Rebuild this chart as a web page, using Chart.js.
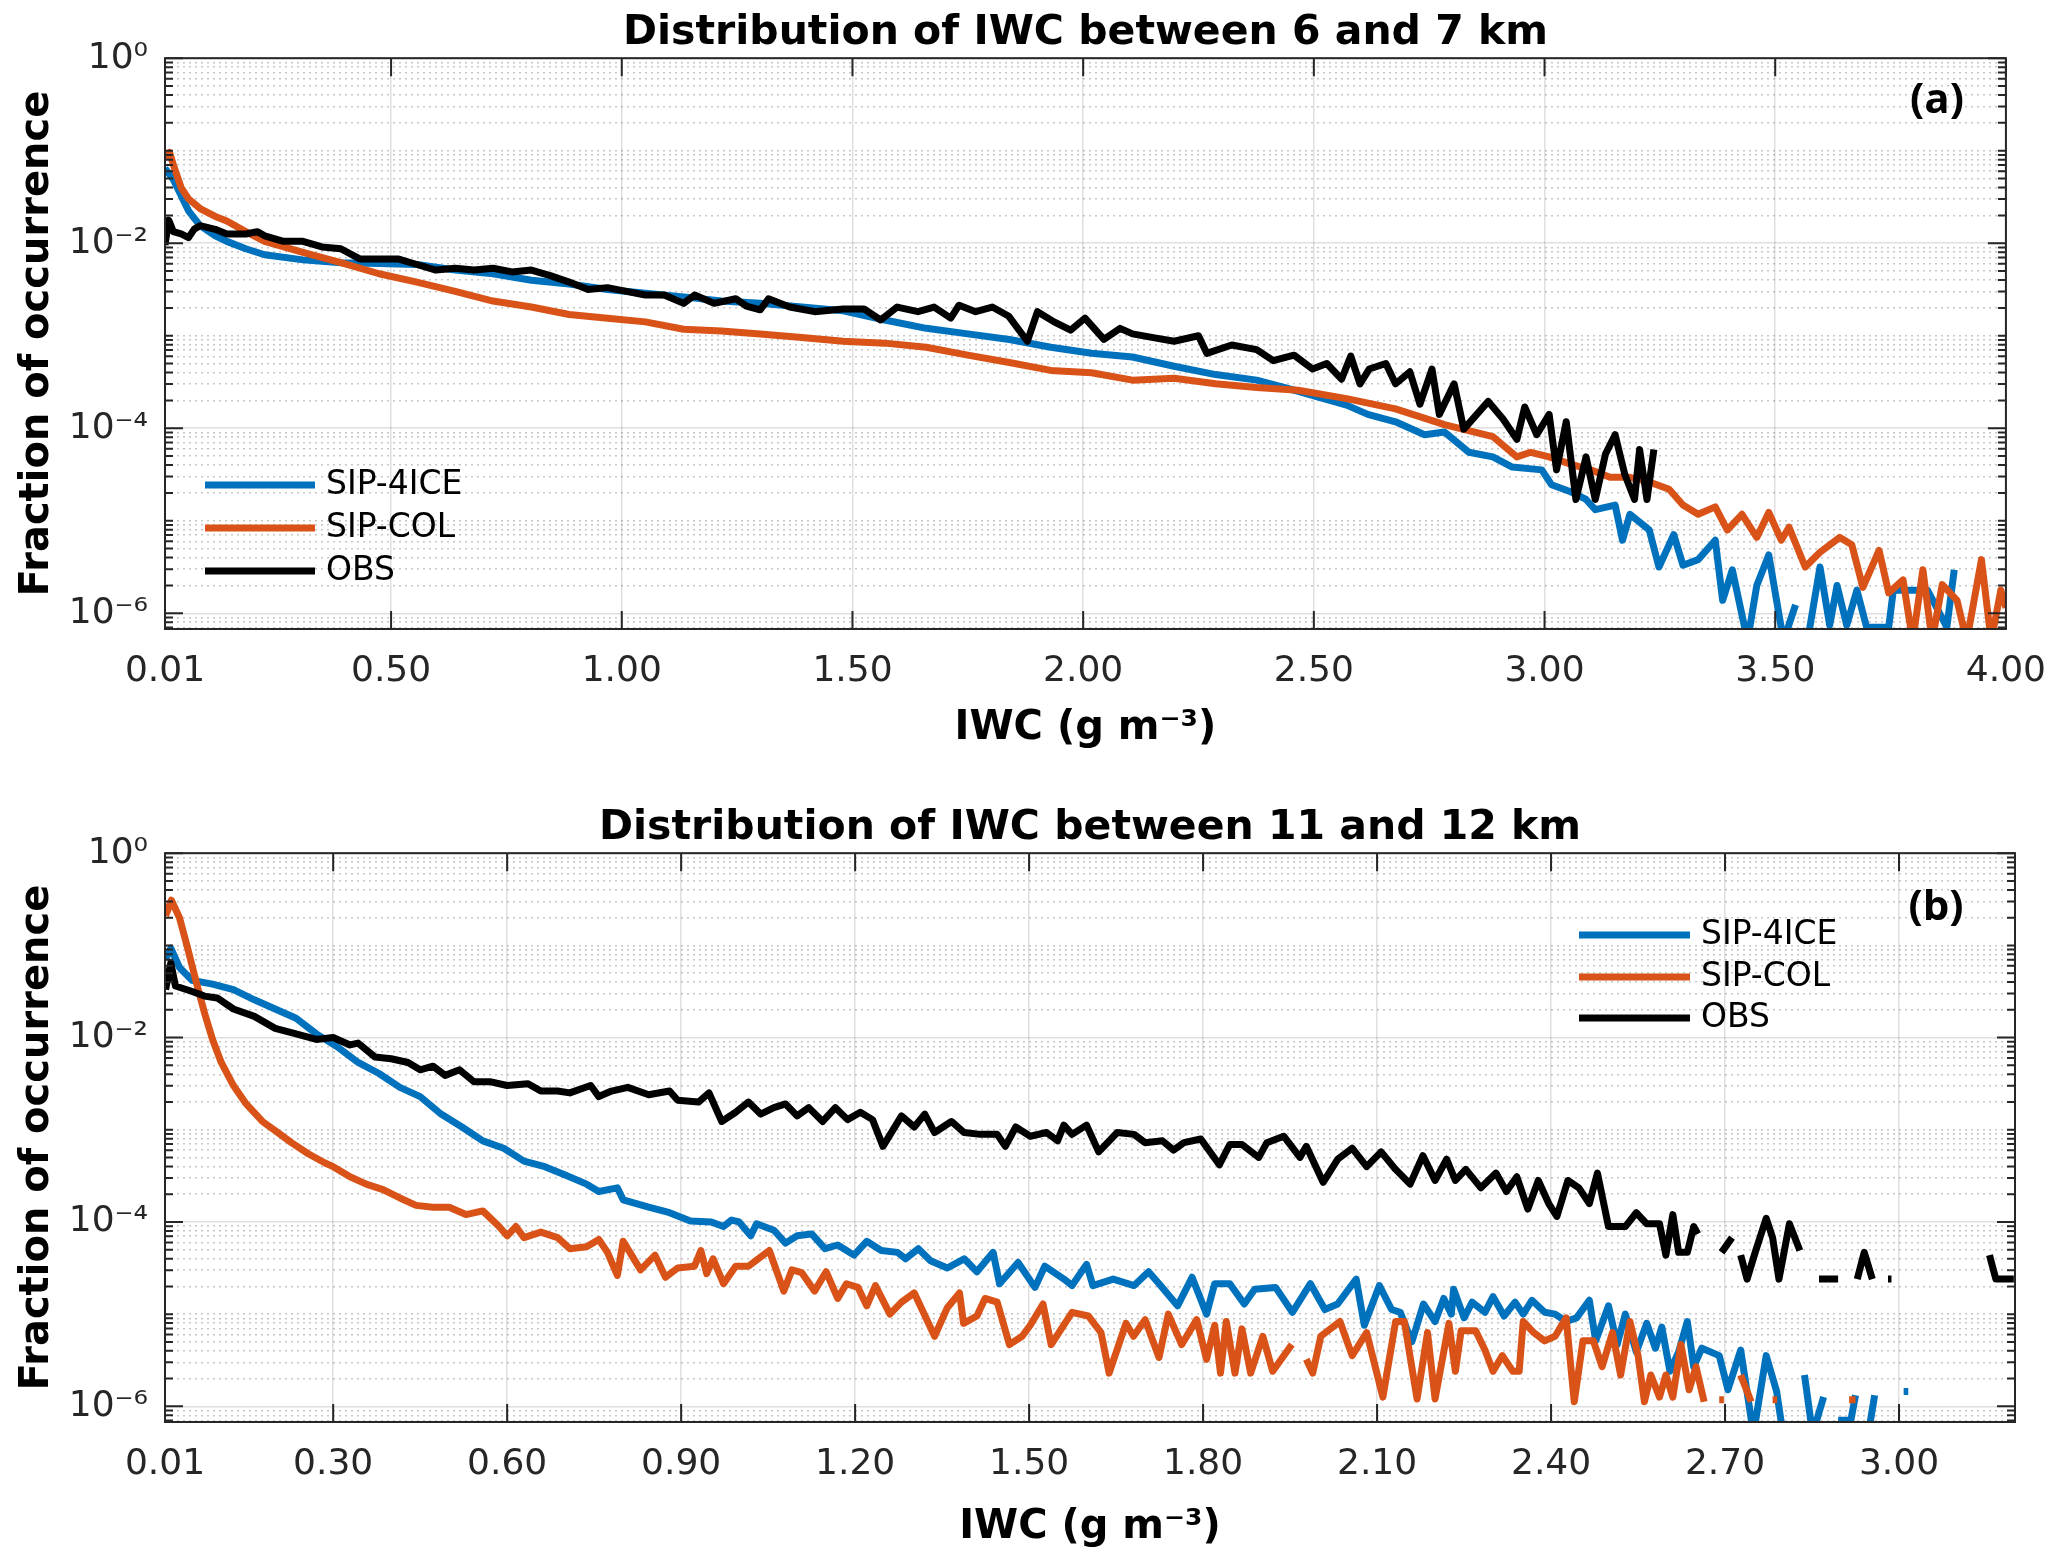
<!DOCTYPE html>
<html lang="en">
<head>
    <meta charset="UTF-8">
    <title>Distribution of IWC</title>
    <script src="https://cdn.jsdelivr.net/npm/chart.js"></script>
    <style>
        body { margin: 0; background: #fff; }
        canvas { display: block; }
    </style>
</head>
<body>
    <canvas id="chartA" width="2067" height="790"></canvas>
    <canvas id="chartB" width="2067" height="769"></canvas>

    <script>
        // ---- data: [IWC (g m-3), log10(fraction of occurrence)], null = no data ----
        const aIce = [[0.01,-1.19],[0.028,-1.31],[0.061,-1.65],[0.086,-1.81],[0.119,-1.92],[0.144,-1.98],[0.185,-2.06],[0.226,-2.125],
            [0.309,-2.18],[0.391,-2.21],[0.474,-2.22],[0.556,-2.23],[0.639,-2.29],[0.721,-2.33],[0.804,-2.40],[0.886,-2.44],[0.969,-2.50],
            [1.051,-2.54],[1.134,-2.58],[1.216,-2.625],[1.30,-2.65],[1.39,-2.69],[1.48,-2.73],[1.57,-2.83],[1.66,-2.92],[1.75,-2.98],
            [1.84,-3.04],[1.93,-3.125],[2.018,-3.19],[2.107,-3.23],[2.197,-3.33],[2.287,-3.42],[2.376,-3.48],[2.466,-3.60],[2.571,-3.75],
            [2.617,-3.85],[2.677,-3.93],[2.74,-4.07],[2.783,-4.04],[2.836,-4.26],[2.888,-4.31],[2.93,-4.42],[2.994,-4.45],[3.015,-4.61],
            [3.058,-4.69],[3.09,-4.77],[3.11,-4.88],[3.153,-4.83],[3.169,-5.21],[3.185,-4.93],[3.227,-5.10],[3.248,-5.50],[3.28,-5.15],
            [3.30,-5.48],[3.333,-5.42],[3.37,-5.21],[3.386,-5.86],[3.407,-5.53],[3.44,-6.3],[3.46,-5.70],[3.486,-5.37],[3.518,-6.3],
            [3.544,-5.91],[3.555,null],[3.57,-6.3],[3.597,-5.50],[3.618,-6.13],[3.634,-5.70],[3.655,-6.13],[3.677,-5.75],[3.698,-6.15],
            [3.746,-6.15],[3.756,-5.75],[3.788,-5.75],[3.83,-5.75],[3.872,-6.15],[3.888,-5.53]];

        const aCol = [[0.01,-1.08],[0.02,-1.02],[0.028,-1.15],[0.045,-1.40],[0.061,-1.52],[0.086,-1.625],[0.119,-1.71],[0.144,-1.76],
            [0.185,-1.875],[0.226,-1.98],[0.309,-2.10],[0.391,-2.21],[0.474,-2.33],[0.556,-2.42],[0.639,-2.52],[0.721,-2.625],[0.804,-2.69],
            [0.886,-2.77],[0.969,-2.81],[1.051,-2.85],[1.134,-2.93],[1.216,-2.95],[1.30,-2.98],[1.39,-3.02],[1.48,-3.06],[1.57,-3.08],
            [1.66,-3.125],[1.75,-3.21],[1.84,-3.29],[1.93,-3.375],[2.018,-3.40],[2.107,-3.48],[2.197,-3.46],[2.287,-3.52],[2.376,-3.56],
            [2.466,-3.59],[2.571,-3.68],[2.677,-3.79],[2.783,-3.96],[2.888,-4.09],[2.94,-4.31],[2.97,-4.26],[3.01,-4.31],[3.058,-4.39],
            [3.10,-4.45],[3.142,-4.53],[3.185,-4.53],[3.227,-4.58],[3.27,-4.66],[3.30,-4.83],[3.333,-4.93],[3.37,-4.85],[3.396,-5.10],
            [3.428,-4.93],[3.46,-5.18],[3.486,-4.91],[3.513,-5.21],[3.53,-5.07],[3.565,-5.50],[3.597,-5.34],[3.64,-5.18],[3.666,-5.26],
            [3.69,-5.72],[3.725,-5.32],[3.746,-5.78],[3.777,-5.64],[3.798,-6.3],[3.82,-5.53],[3.84,-6.3],[3.862,-5.69],[3.894,-5.86],
            [3.915,-6.3],[3.947,-5.42],[3.968,-6.3],[3.989,-5.75],[4.0,-5.94]];

        const aObs = [[0.01,-2.02],[0.018,-1.75],[0.028,-1.875],[0.045,-1.90],[0.061,-1.94],[0.073,-1.85],[0.086,-1.81],[0.119,-1.85],
            [0.144,-1.90],[0.185,-1.90],[0.21,-1.875],[0.226,-1.92],[0.267,-1.98],[0.309,-1.98],[0.35,-2.04],[0.391,-2.06],[0.432,-2.17],
            [0.474,-2.17],[0.515,-2.17],[0.556,-2.23],[0.597,-2.29],[0.639,-2.27],[0.68,-2.29],[0.721,-2.27],[0.762,-2.31],[0.804,-2.29],
            [0.845,-2.35],[0.886,-2.42],[0.927,-2.50],[0.969,-2.48],[1.01,-2.52],[1.051,-2.56],[1.092,-2.56],[1.134,-2.65],[1.158,-2.56],
            [1.2,-2.65],[1.247,-2.60],[1.27,-2.68],[1.30,-2.72],[1.318,-2.60],[1.364,-2.69],[1.418,-2.74],[1.48,-2.71],[1.525,-2.71],
            [1.561,-2.83],[1.597,-2.69],[1.642,-2.74],[1.677,-2.69],[1.713,-2.81],[1.731,-2.67],[1.767,-2.74],[1.803,-2.69],[1.839,-2.79],
            [1.879,-3.06],[1.901,-2.74],[1.937,-2.85],[1.973,-2.94],[2.004,-2.81],[2.045,-3.04],[2.08,-2.92],[2.107,-2.98],[2.152,-3.02],
            [2.197,-3.06],[2.25,-3.00],[2.268,-3.19],[2.322,-3.10],[2.376,-3.15],[2.412,-3.27],[2.457,-3.21],[2.497,-3.36],[2.528,-3.30],
            [2.56,-3.47],[2.58,-3.22],[2.60,-3.52],[2.62,-3.36],[2.656,-3.30],[2.677,-3.52],[2.708,-3.39],[2.73,-3.74],[2.756,-3.36],
            [2.772,-3.85],[2.804,-3.52],[2.825,-4.01],[2.878,-3.71],[2.91,-3.90],[2.94,-4.12],[2.957,-3.77],[2.983,-4.07],[3.01,-3.85],
            [3.026,-4.45],[3.047,-3.93],[3.068,-4.77],[3.09,-4.31],[3.11,-4.77],[3.132,-4.28],[3.153,-4.07],[3.174,-4.50],[3.195,-4.77],
            [3.206,-4.23],[3.222,-4.77],[3.237,-4.23]];

        const bIce = [[0.011,-1.15],[0.02,-1.03],[0.035,-1.24],[0.057,-1.38],[0.092,-1.42],[0.128,-1.48],[0.164,-1.59],[0.20,-1.69],
            [0.236,-1.79],[0.271,-1.96],[0.307,-2.10],[0.343,-2.27],[0.379,-2.39],[0.415,-2.54],[0.45,-2.64],[0.486,-2.83],[0.522,-2.97],
            [0.558,-3.12],[0.594,-3.20],[0.629,-3.34],[0.665,-3.40],[0.70,-3.49],[0.737,-3.59],[0.758,-3.67],[0.79,-3.63],[0.80,-3.76],
            [0.844,-3.84],[0.88,-3.90],[0.916,-3.99],[0.952,-4.00],[0.973,-4.05],[0.987,-3.98],[1.00,-4.00],[1.02,-4.15],[1.03,-4.02],
            [1.06,-4.09],[1.08,-4.23],[1.10,-4.15],[1.125,-4.13],[1.148,-4.29],[1.17,-4.25],[1.198,-4.36],[1.22,-4.21],[1.245,-4.31],
            [1.273,-4.33],[1.287,-4.40],[1.309,-4.29],[1.33,-4.42],[1.359,-4.50],[1.388,-4.40],[1.41,-4.54],[1.438,-4.33],[1.449,-4.67],
            [1.481,-4.44],[1.51,-4.71],[1.527,-4.48],[1.56,-4.62],[1.574,-4.69],[1.599,-4.46],[1.61,-4.69],[1.645,-4.62],[1.681,-4.69],
            [1.706,-4.54],[1.724,-4.67],[1.756,-4.91],[1.781,-4.60],[1.806,-5.00],[1.82,-4.67],[1.846,-4.67],[1.871,-4.89],[1.889,-4.73],
            [1.925,-4.71],[1.954,-4.98],[1.985,-4.67],[2.01,-4.95],[2.032,-4.89],[2.064,-4.62],[2.078,-5.12],[2.104,-4.69],[2.125,-4.95],
            [2.14,-4.98],[2.16,-5.30],[2.18,-4.89],[2.2,-5.08],[2.215,-4.83],[2.228,-5.00],[2.232,-4.73],[2.25,-5.04],[2.264,-4.87],
            [2.286,-4.98],[2.30,-4.81],[2.319,-5.02],[2.338,-4.87],[2.352,-5.00],[2.367,-4.85],[2.389,-4.98],[2.407,-5.00],[2.426,-5.08],
            [2.444,-5.04],[2.466,-4.85],[2.477,-5.29],[2.499,-4.91],[2.514,-5.33],[2.528,-5.00],[2.547,-5.41],[2.565,-5.10],[2.58,-5.37],
            [2.591,-5.14],[2.605,-5.62],[2.62,-5.41],[2.635,-5.08],[2.646,-5.57],[2.66,-5.37],[2.69,-5.45],[2.705,-5.82],[2.727,-5.39],
            [2.749,-6.3],[2.771,-5.45],[2.789,-5.84],[2.80,-6.3],[2.815,null],[2.837,-5.66],[2.851,-6.3],[2.87,-5.90],[2.882,null],
            [2.895,-6.15],[2.917,-6.15],[2.925,-5.88],[2.935,null],[2.947,-6.3],[2.958,-5.88],[2.985,null],[3.008,-5.84],[3.016,-5.84]];

        const bCol = [[0.011,-0.68],[0.021,-0.51],[0.035,-0.70],[0.049,-1.03],[0.064,-1.40],[0.078,-1.73],[0.092,-2.02],[0.107,-2.27],
            [0.128,-2.52],[0.15,-2.72],[0.178,-2.91],[0.20,-3.01],[0.228,-3.14],[0.257,-3.26],[0.286,-3.36],[0.30,-3.40],[0.329,-3.51],
            [0.357,-3.59],[0.386,-3.65],[0.415,-3.74],[0.443,-3.82],[0.472,-3.84],[0.50,-3.84],[0.529,-3.92],[0.558,-3.88],[0.586,-4.05],
            [0.60,-4.15],[0.615,-4.05],[0.629,-4.17],[0.658,-4.11],[0.687,-4.17],[0.708,-4.29],[0.737,-4.27],[0.758,-4.19],[0.773,-4.33],
            [0.79,-4.58],[0.80,-4.21],[0.83,-4.52],[0.855,-4.36],[0.873,-4.60],[0.894,-4.50],[0.923,-4.48],[0.934,-4.31],[0.944,-4.56],
            [0.955,-4.40],[0.973,-4.67],[0.994,-4.48],[1.016,-4.48],[1.052,-4.31],[1.077,-4.75],[1.091,-4.52],[1.108,-4.55],[1.13,-4.75],
            [1.15,-4.54],[1.17,-4.83],[1.185,-4.67],[1.205,-4.71],[1.22,-4.91],[1.235,-4.69],[1.26,-5.00],[1.28,-4.87],[1.302,-4.77],
            [1.337,-5.24],[1.359,-4.93],[1.38,-4.77],[1.387,-5.10],[1.41,-5.02],[1.424,-4.83],[1.445,-4.87],[1.466,-5.33],[1.488,-5.24],
            [1.502,-5.12],[1.524,-4.89],[1.538,-5.33],[1.574,-4.98],[1.602,-5.02],[1.624,-5.20],[1.638,-5.64],[1.667,-5.10],[1.68,-5.24],
            [1.70,-5.06],[1.724,-5.47],[1.74,-5.00],[1.763,-5.33],[1.789,-5.06],[1.806,-5.49],[1.82,-5.12],[1.83,-5.64],[1.84,-5.08],
            [1.855,-5.64],[1.867,-5.16],[1.882,-5.64],[1.903,-5.24],[1.92,-5.62],[1.953,-5.33],[1.965,null],[1.978,-5.49],[1.989,-5.64],
            [2.003,-5.24],[2.036,-5.08],[2.057,-5.45],[2.082,-5.20],[2.11,-5.90],[2.132,-5.08],[2.147,-5.08],[2.169,-5.92],[2.187,-5.20],
            [2.2,-5.92],[2.224,-5.10],[2.235,-5.62],[2.245,-5.18],[2.27,-5.18],[2.286,-5.39],[2.30,-5.62],[2.316,-5.45],[2.334,-5.62],
            [2.345,-5.62],[2.352,-5.08],[2.37,-5.20],[2.389,-5.29],[2.407,-5.24],[2.426,-5.04],[2.44,-5.95],[2.455,-5.29],[2.473,-5.29],
            [2.488,-5.57],[2.506,-5.20],[2.52,-5.66],[2.536,-5.08],[2.55,-5.45],[2.561,-5.95],[2.572,-5.66],[2.587,-5.90],[2.598,-5.66],
            [2.61,-5.90],[2.624,-5.33],[2.638,-5.82],[2.65,-5.57],[2.664,-5.95],[2.68,null],[2.69,-5.93],[2.698,-5.93],[2.71,null],
            [2.727,-5.66],[2.745,-5.95],[2.76,null],[2.782,-5.93],[2.79,-5.93],[2.85,null],[2.914,-5.93],[2.925,-5.93]];

        const bObs = [[0.011,-1.48],[0.02,-1.19],[0.028,-1.44],[0.057,-1.50],[0.078,-1.55],[0.1,-1.57],[0.128,-1.69],[0.164,-1.77],
            [0.20,-1.90],[0.236,-1.96],[0.271,-2.02],[0.30,-2.00],[0.329,-2.08],[0.343,-2.06],[0.372,-2.21],[0.40,-2.23],[0.429,-2.27],
            [0.45,-2.35],[0.472,-2.31],[0.493,-2.41],[0.518,-2.35],[0.543,-2.48],[0.572,-2.48],[0.60,-2.52],[0.636,-2.50],[0.658,-2.58],
            [0.687,-2.58],[0.708,-2.60],[0.744,-2.52],[0.758,-2.64],[0.78,-2.58],[0.808,-2.54],[0.844,-2.62],[0.88,-2.58],[0.894,-2.68],
            [0.93,-2.70],[0.948,-2.60],[0.97,-2.91],[0.994,-2.81],[1.016,-2.70],[1.037,-2.83],[1.06,-2.76],[1.08,-2.72],[1.10,-2.85],
            [1.12,-2.76],[1.144,-2.91],[1.166,-2.76],[1.187,-2.89],[1.209,-2.81],[1.23,-2.89],[1.248,-3.18],[1.28,-2.85],[1.302,-2.97],
            [1.32,-2.83],[1.337,-3.03],[1.366,-2.91],[1.388,-3.03],[1.416,-3.05],[1.445,-3.05],[1.459,-3.18],[1.477,-2.97],[1.502,-3.07],
            [1.53,-3.03],[1.549,-3.12],[1.56,-2.95],[1.574,-3.05],[1.599,-2.95],[1.62,-3.24],[1.652,-3.03],[1.681,-3.05],[1.70,-3.14],
            [1.73,-3.12],[1.749,-3.22],[1.767,-3.14],[1.796,-3.10],[1.828,-3.38],[1.846,-3.16],[1.867,-3.16],[1.896,-3.30],[1.91,-3.14],
            [1.939,-3.07],[1.967,-3.30],[1.978,-3.18],[2.007,-3.57],[2.032,-3.32],[2.057,-3.20],[2.082,-3.40],[2.107,-3.24],[2.132,-3.43],
            [2.157,-3.59],[2.179,-3.28],[2.2,-3.55],[2.22,-3.32],[2.235,-3.55],[2.253,-3.43],[2.279,-3.63],[2.305,-3.47],[2.323,-3.67],
            [2.341,-3.51],[2.36,-3.86],[2.378,-3.55],[2.396,-3.80],[2.41,-3.94],[2.429,-3.55],[2.448,-3.63],[2.466,-3.80],[2.48,-3.47],
            [2.499,-4.05],[2.528,-4.05],[2.547,-3.90],[2.565,-4.02],[2.587,-4.02],[2.598,-4.36],[2.61,-3.92],[2.62,-4.33],[2.635,-4.33],
            [2.646,-4.05],[2.653,-4.13],[2.67,null],[2.694,-4.33],[2.712,-4.17],[2.72,null],[2.727,-4.36],[2.738,-4.62],[2.752,-4.33],
            [2.771,-3.96],[2.782,-4.17],[2.793,-4.62],[2.811,-4.02],[2.829,-4.31],[2.845,null],[2.862,-4.62],[2.895,-4.62],[2.91,null],
            [2.928,-4.62],[2.94,-4.33],[2.954,-4.62],[2.97,null],[2.981,-4.62],[2.987,-4.62],[3.1,null],[3.156,-4.36],[3.167,-4.62],
            [3.198,-4.62]];

        const aXTicks = [0.01, 0.5, 1.0, 1.5, 2.0, 2.5, 3.0, 3.5, 4.0];
        const bXTicks = [0.01, 0.3, 0.6, 0.9, 1.2, 1.5, 1.8, 2.1, 2.4, 2.7, 3.0];
        const yMajorExp = [0, -2, -4, -6];
        const yTickLabels = ['10⁰', '10⁻²', '10⁻⁴', '10⁻⁶'];
        const seriesNames = ['SIP-4ICE', 'SIP-COL', 'OBS'];

        // ---- style ----
        const FONT = "'DejaVu Sans', sans-serif";
        const BLUE = '#0072BD', ORANGE = '#D95319', BLACK = '#000000';
        const AXIS = '#262626';
        const MAJOR_GRID = 'rgba(38,38,38,0.15)';
        const MINOR_GRID = 'rgba(38,38,38,0.26)';
        const YMIN = Math.pow(10, -6.17);

        function toPoints(pairs) {
            return pairs.map(p => ({ x: p[0], y: p[1] === null ? null : Math.pow(10, p[1]) }));
        }

        function series(label, pairs, color, order) {
            return {
                label: label, data: toPoints(pairs), borderColor: color, backgroundColor: color,
                borderWidth: 7, pointRadius: 0, tension: 0, spanGaps: false, order: order,
                borderJoinStyle: 'round'
            };
        }

        // decade ticks: majors labelled, the rest only as dotted grid
        function logTicks() {
            const out = [];
            for (let n = -7; n <= 0; n++) {
                for (let k = 1; k <= 9; k++) {
                    const v = k * Math.pow(10, n);
                    if (v < YMIN || v > 1.0000001) continue;
                    out.push({ value: v, isMajor: k === 1 && yMajorExp.includes(n) });
                }
            }
            return out;
        }

        // box and inward tick marks, matlab style
        const matlabAxes = {
            id: 'matlabAxes',
            afterDatasetsDraw(chart) {
                const { ctx, chartArea: a, scales: { x, y } } = chart;
                ctx.save();
                ctx.strokeStyle = AXIS;
                ctx.lineWidth = 2;
                ctx.beginPath();
                x.ticks.forEach(t => {
                    const p = x.getPixelForValue(t.value);
                    ctx.moveTo(p, a.bottom); ctx.lineTo(p, a.bottom - 18);
                    ctx.moveTo(p, a.top); ctx.lineTo(p, a.top + 18);
                });
                y.ticks.forEach(t => {
                    const p = y.getPixelForValue(t.value);
                    const len = t.isMajor ? 18 : 8;
                    ctx.moveTo(a.left, p); ctx.lineTo(a.left + len, p);
                    ctx.moveTo(a.right, p); ctx.lineTo(a.right - len, p);
                });
                ctx.stroke();
                ctx.strokeRect(a.left, a.top, a.right - a.left, a.bottom - a.top);
                ctx.restore();
            }
        };

        const matlabLegend = {
            id: 'matlabLegend',
            afterDraw(chart, args, opts) {
                const ctx = chart.ctx;
                ctx.save();
                ctx.font = '33px ' + FONT;
                ctx.textAlign = 'left';
                ctx.textBaseline = 'middle';
                seriesNames.forEach((name, i) => {
                    const ds = chart.data.datasets.find(d => d.label === name);
                    const y = opts.rows[i];
                    ctx.strokeStyle = ds.borderColor;
                    ctx.lineWidth = 7;
                    ctx.beginPath();
                    ctx.moveTo(opts.x0, y);
                    ctx.lineTo(opts.x1, y);
                    ctx.stroke();
                    ctx.fillStyle = '#000';
                    ctx.fillText(name, opts.tx, y);
                });
                ctx.font = "bold 42px 'Open Sans', sans-serif";
                ctx.textAlign = 'center';
                ctx.fillText(opts.tag, opts.tagX, opts.tagY);
                ctx.restore();
            }
        };

        function buildChart(id, o) {
            return new Chart(document.getElementById(id), {
                type: 'line',
                data: {
                    datasets: [
                        series(seriesNames[0], o.ice, BLUE, 3),
                        series(seriesNames[1], o.col, ORANGE, 2),
                        series(seriesNames[2], o.obs, BLACK, 1)
                    ]
                },
                options: {
                    responsive: false,
                    animation: false,
                    devicePixelRatio: 1,
                    layout: { padding: { left: 0, right: 52, top: 0, bottom: 0 } },
                    plugins: {
                        legend: { display: false },
                        tooltip: { enabled: false },
                        title: {
                            display: true, text: o.title, color: '#000', fullSize: false,
                            font: { family: FONT, size: 41, weight: 'bold' },
                            padding: o.titlePad
                        },
                        matlabLegend: o.legend
                    },
                    scales: {
                        x: {
                            type: 'linear', min: o.xMin, max: o.xMax,
                            afterBuildTicks: s => { s.ticks = o.xTicks.map(v => ({ value: v })); },
                            afterFit: s => { s.height = o.xHeight; },
                            ticks: {
                                callback: v => v.toFixed(2), color: AXIS, padding: 21,
                                font: { family: FONT, size: 36 }, autoSkip: false, maxRotation: 0
                            },
                            grid: { color: MAJOR_GRID, lineWidth: 1.5, drawTicks: false },
                            border: { display: false },
                            title: {
                                display: true, text: 'IWC (g m⁻³)', color: '#000',
                                font: { family: FONT, size: 40, weight: 'bold' },
                                padding: { top: 0, bottom: o.xTitlePad }
                            }
                        },
                        y: {
                            type: 'logarithmic', min: YMIN, max: 1,
                            afterBuildTicks: s => { s.ticks = logTicks(); },
                            afterFit: s => { s.width = 165; },
                            ticks: {
                                callback: (v, i, ticks) => {
                                    if (!ticks[i].isMajor) return '';
                                    return yTickLabels[yMajorExp.indexOf(Math.round(Math.log10(v)))];
                                },
                                color: AXIS, padding: 17, autoSkip: false,
                                font: { family: FONT, size: 36 }
                            },
                            grid: {
                                color: c => (c.tick && c.tick.isMajor) ? MAJOR_GRID : MINOR_GRID,
                                lineWidth: 1.5, drawTicks: false
                            },
                            border: { display: false, dash: c => (c.tick && !c.tick.isMajor) ? [2, 4] : [] },
                            title: {
                                display: true, text: 'Fraction of occurrence', color: '#000',
                                font: { family: FONT, size: 40, weight: 'bold' },
                                padding: { top: 14, bottom: 0 }
                            }
                        }
                    }
                },
                plugins: [matlabAxes, matlabLegend]
            });
        }

        buildChart('chartA', {
            title: 'Distribution of IWC between 6 and 7 km',
            titlePad: { top: 9, bottom: 0 },
            ice: aIce, col: aCol, obs: aObs,
            xMin: 0.01, xMax: 4.0, xTicks: aXTicks,
            xHeight: 161, xTitlePad: 37,
            legend: { x0: 205, x1: 315, tx: 326, rows: [485, 528, 571], tag: '(a)', tagX: 1937, tagY: 101 }
        });

        buildChart('chartB', {
            title: 'Distribution of IWC between 11 and 12 km',
            titlePad: { top: 14, bottom: 0 },
            ice: bIce, col: bCol, obs: bObs,
            xMin: 0.01, xMax: 3.2, xTicks: bXTicks,
            xHeight: 137, xTitlePad: 7,
            legend: { x0: 1579, x1: 1690, tx: 1701, rows: [145, 187, 228], tag: '(b)', tagX: 1936, tagY: 118 }
        });
    </script>
</body>
</html>
